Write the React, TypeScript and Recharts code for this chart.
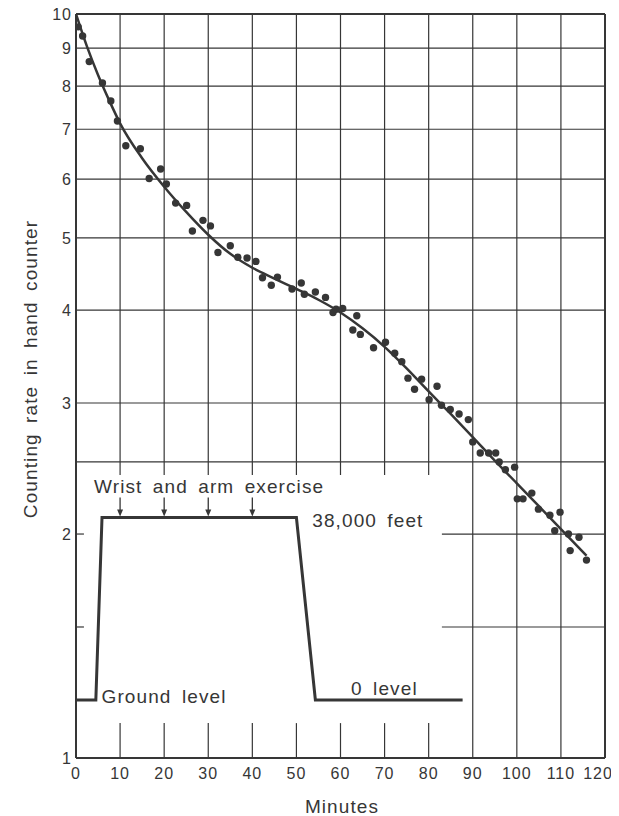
import {
  ComposedChart,
  Line,
  ReferenceDot,
  ReferenceLine,
  Scatter,
  XAxis,
  YAxis,
} from "recharts";

const INK = "#363636";
const FONT = '"Liberation Sans", Arial, Helvetica, sans-serif';

// hand counter readings (counts, log scale)
const readingMinutes = [
  0.5, 1.5, 3.0, 6.0, 7.9, 9.4, 11.3, 14.6, 16.6, 19.2, 20.5, 22.6, 25.1, 26.4,
  28.8, 30.5, 32.2, 35.0, 36.7, 38.8, 40.8, 42.3, 44.3, 45.7, 49.0, 51.1, 51.8,
  54.3, 56.6, 58.3, 59.0, 60.5, 62.8, 63.7, 64.5, 67.5, 70.2, 72.3, 73.9, 75.3,
  76.8, 78.4, 80.1, 81.9, 82.9, 84.9, 86.9, 89.0, 90.0, 91.7, 93.6, 95.2, 96.0,
  97.4, 99.5, 100.1, 101.4, 103.4, 104.9, 107.5, 108.6, 109.8, 111.7, 112.1,
  114.1, 115.8,
];
const readingRates = [
  9.61, 9.34, 8.63, 8.08, 7.64, 7.18, 6.65, 6.59, 6.01, 6.19, 5.91, 5.57, 5.53,
  5.11, 5.28, 5.19, 4.78, 4.88, 4.71, 4.7, 4.65, 4.42, 4.32, 4.43, 4.27, 4.35,
  4.2, 4.23, 4.16, 3.97, 4.01, 4.02, 3.76, 3.93, 3.71, 3.56, 3.62, 3.5, 3.41,
  3.24, 3.13, 3.23, 3.03, 3.16, 2.98, 2.94, 2.9, 2.85, 2.66, 2.57, 2.57, 2.57,
  2.5, 2.44, 2.46, 2.23, 2.23, 2.27, 2.16, 2.12, 2.02, 2.14, 2.0, 1.9, 1.98,
  1.845,
];

// smoothed decay curve
const fitMinutes = [
  0, 2.5, 5, 7.5, 10, 15, 20, 25, 30, 35, 40, 45, 50, 55, 60, 65, 70, 75, 80,
  85, 90, 95, 100, 105, 110, 115.8,
];
const fitRates = [
  10, 9.04, 8.28, 7.66, 7.13, 6.4, 5.86, 5.42, 5.05, 4.76, 4.56, 4.41, 4.27,
  4.13, 3.97, 3.78, 3.57, 3.34, 3.11, 2.9, 2.7, 2.51, 2.34, 2.18, 2.03, 1.87,
];

// flight profile, altitude in feet
const flightMinutes = [0, 4.5, 5.9, 50, 54.3, 87.7];
const flightAltitude = [0, 0, 38000, 38000, 0, 0];
const exerciseMinutes = [10, 20, 30, 40];

const minuteTicks = [0, 10, 20, 30, 40, 50, 60, 70, 80, 90, 100, 110, 120];
const rateTicks = [1, 2, 3, 4, 5, 6, 7, 8, 9, 10];

// grid layout: rows and columns, some cut short around the flight inset
const fullRows = [2.5, 3, 4, 5, 6, 7, 8, 9];
const stubRows = [1.5, 2];
const shortCols = [10, 20, 30, 40, 50, 60, 70, 80];
const fullCols = [90, 100, 110];

const readings = readingMinutes.map((t, i) => ({ t, rate: readingRates[i] }));
const fit = fitMinutes.map((t, i) => ({ t, rate: fitRates[i] }));
const flight = flightMinutes.map((t, i) => ({ t, alt: flightAltitude[i] }));
const exercise = exerciseMinutes.map((t) => ({ t, alt: 38000 }));

const textStyle = {
  fill: INK,
  fontFamily: FONT,
  fontSize: 19,
  letterSpacing: 1.1,
  wordSpacing: 4,
};

const tickStyle = { fill: INK, fontSize: 16, fontFamily: FONT, letterSpacing: 1 };

const ReadingDot = (p: any) => <circle cx={p.cx} cy={p.cy} r={3.7} fill={INK} />;

const DownArrow = (p: any) => (
  <g>
    <line x1={p.cx} y1={p.cy - 20} x2={p.cx} y2={p.cy - 6} stroke={INK} strokeWidth={1.3} />
    <path d={`M${p.cx - 3},${p.cy - 8} L${p.cx + 3},${p.cy - 8} L${p.cx},${p.cy - 1} Z`} fill={INK} />
  </g>
);

// last minute label is pulled in so it stays on the page
const MinuteTick = (p: any) => (
  <text
    x={p.x - (p.payload.value === 120 ? 7 : 0)}
    y={p.y}
    dy="0.71em"
    textAnchor="middle"
    style={tickStyle}
  >
    {p.payload.value}
  </text>
);

const note = (text: string) => (p: any) => (
  <text x={p.viewBox.x} y={p.viewBox.y} style={textStyle}>
    {text}
  </text>
);

const grid = { stroke: INK, strokeWidth: 1.2 };

export default function App() {
  return (
    <div style={{ width: 611, height: 816, marginTop: -8, background: "#fff" }}>
      <ComposedChart width={611} height={816} margin={{ top: 14, right: 14, bottom: 8, left: 8 }}>
        <XAxis
          type="number"
          dataKey="t"
          domain={[0, 120]}
          ticks={minuteTicks}
          interval={0}
          allowDataOverflow
          height={50}
          tickSize={0}
          tickMargin={10}
          axisLine={{ stroke: INK, strokeWidth: 2 }}
          tick={MinuteTick}
          label={(p: any) => (
            <text
              x={p.viewBox.x + p.viewBox.width / 2 + 1.5}
              y={p.viewBox.y + 55}
              textAnchor="middle"
              style={textStyle}
            >
              Minutes
            </text>
          )}
        />
        <YAxis
          scale="log"
          domain={[1, 10]}
          ticks={rateTicks}
          interval={0}
          allowDataOverflow
          width={60}
          tickSize={0}
          tickMargin={4}
          axisLine={{ stroke: INK, strokeWidth: 2 }}
          tick={tickStyle}
          label={(p: any) => {
            const x = p.viewBox.x + 21;
            const y = p.viewBox.y + p.viewBox.height / 2 - 17;
            return (
              <text x={x} y={y} transform={`rotate(-90 ${x} ${y})`} textAnchor="middle" style={textStyle}>
                Counting rate in hand counter
              </text>
            );
          }}
        />
        <YAxis yAxisId="alt" hide type="number" domain={[-12080, 142840]} allowDataOverflow />

        {fullRows.map((r) => (
          <ReferenceLine key={`r${r}`} y={r} {...grid} />
        ))}
        {stubRows.map((r) => (
          <ReferenceLine key={`sl${r}`} segment={[{ x: 0, y: r }, { x: 1.8, y: r }]} {...grid} />
        ))}
        {stubRows.map((r) => (
          <ReferenceLine key={`sr${r}`} segment={[{ x: 83, y: r }, { x: 120, y: r }]} {...grid} />
        ))}
        {shortCols.map((c) => (
          <ReferenceLine key={`c${c}`} segment={[{ x: c, y: 2.4 }, { x: c, y: 10 }]} {...grid} />
        ))}
        {shortCols.map((c) => (
          <ReferenceLine key={`cb${c}`} segment={[{ x: c, y: 1 }, { x: c, y: 1.114 }]} {...grid} />
        ))}
        {fullCols.map((c) => (
          <ReferenceLine key={`f${c}`} x={c} {...grid} />
        ))}
        <ReferenceLine y={10} stroke={INK} strokeWidth={2} />
        <ReferenceLine x={120} stroke={INK} strokeWidth={2} />

        <Line
          data={flight}
          dataKey="alt"
          yAxisId="alt"
          type="linear"
          dot={false}
          stroke={INK}
          strokeWidth={3}
          isAnimationActive={false}
        />
        <Scatter data={exercise} dataKey="alt" yAxisId="alt" shape={DownArrow} isAnimationActive={false} />
        <ReferenceDot x={4.1} y={43100} yAxisId="alt" r={0} label={note("Wrist and arm exercise")} />
        <ReferenceDot x={53.6} y={36020} yAxisId="alt" r={0} label={note("38,000 feet")} />
        <ReferenceDot x={5.8} y={-560} yAxisId="alt" r={0} label={note("Ground level")} />
        <ReferenceDot x={62.4} y={1040} yAxisId="alt" r={0} label={note("0 level")} />

        <Line
          data={fit}
          dataKey="rate"
          type="monotone"
          dot={false}
          stroke={INK}
          strokeWidth={2.5}
          isAnimationActive={false}
        />
        <Scatter data={readings} dataKey="rate" shape={ReadingDot} isAnimationActive={false} />
      </ComposedChart>
    </div>
  );
}
